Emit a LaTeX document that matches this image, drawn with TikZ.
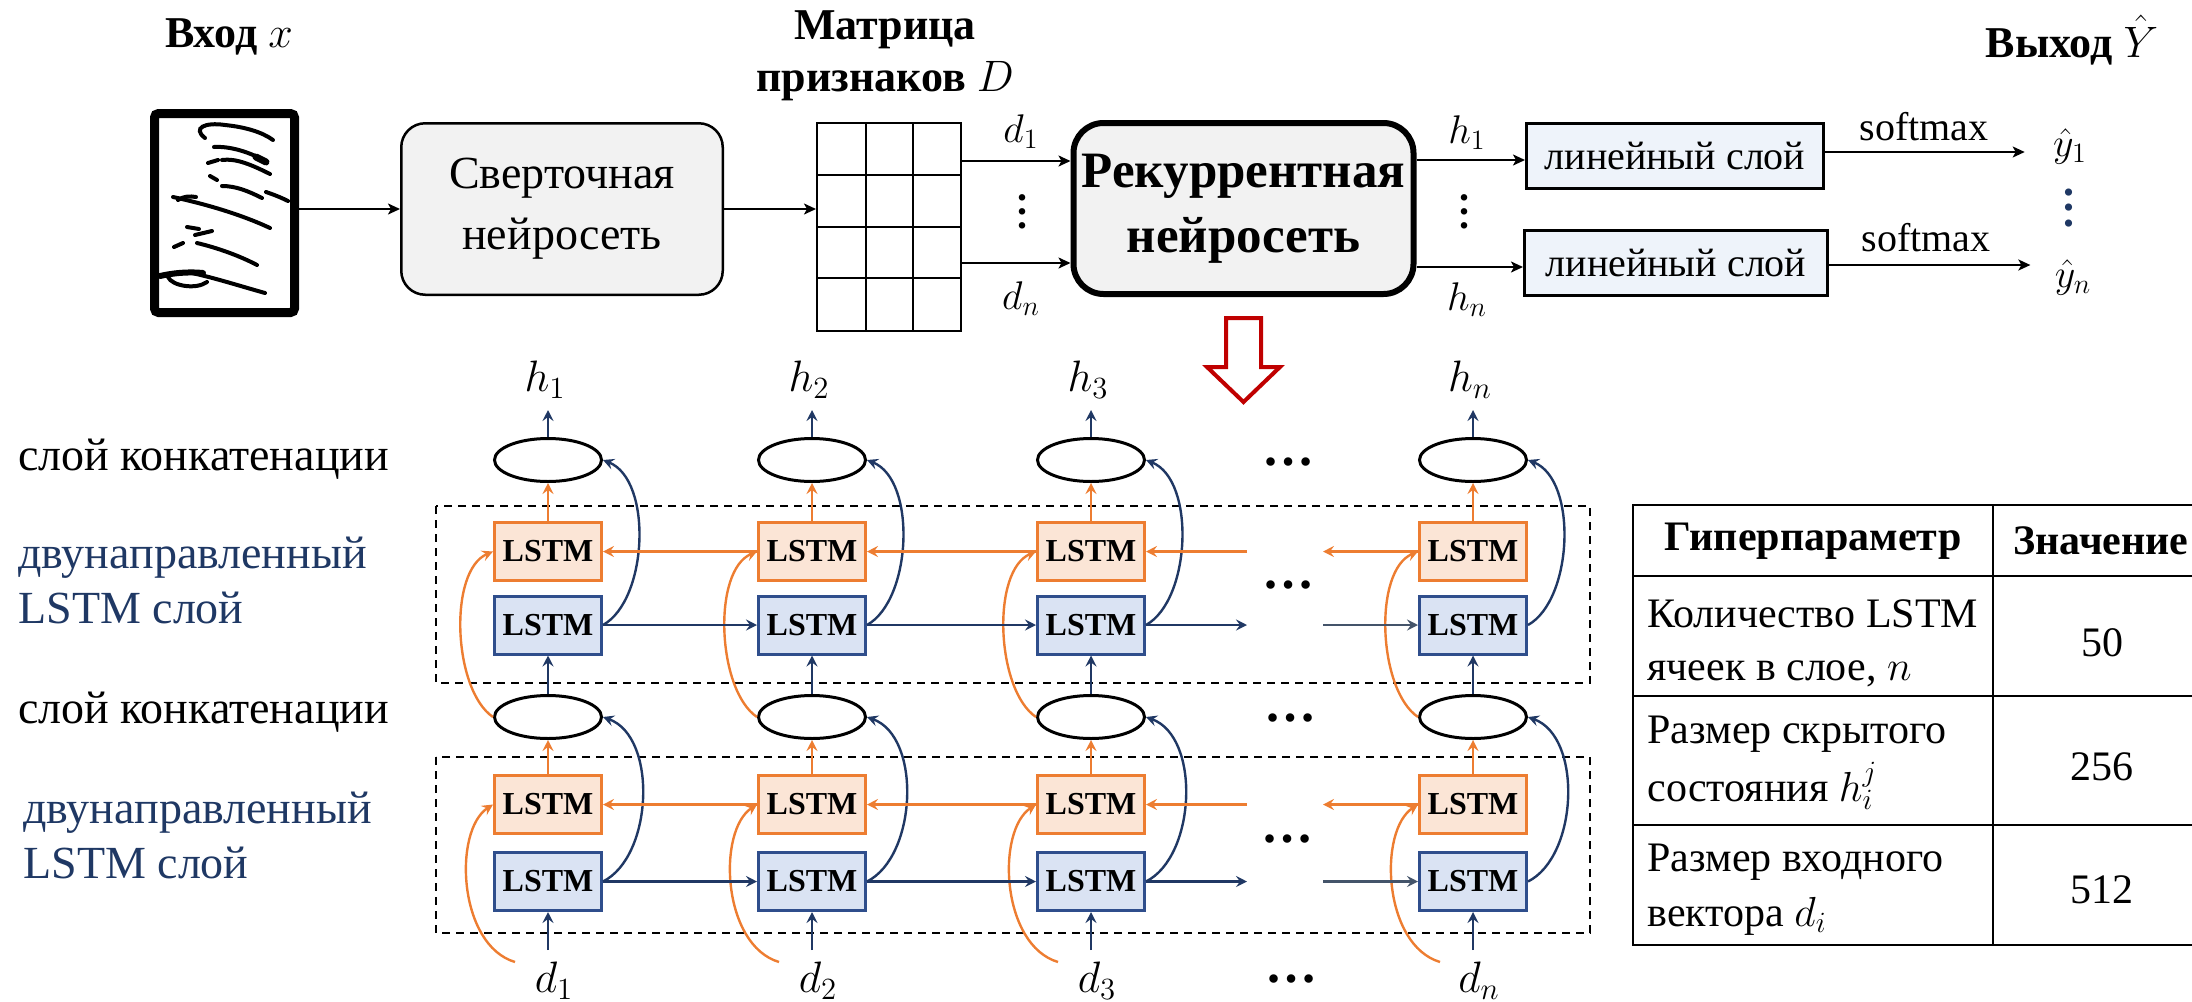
\RequirePackage{fix-cm}
\documentclass[tikz,border=0pt]{standalone}
\usepackage{fontspec}
\setmainfont{Liberation Serif}
\usetikzlibrary{arrows.meta,shapes.geometric}
\definecolor{org}{HTML}{ED7D31}
\definecolor{orgfill}{HTML}{FBE5D6}
\definecolor{blu}{HTML}{2F4E8C}
\definecolor{bluarr}{HTML}{203864}
\definecolor{blufill}{HTML}{DAE3F3}
\definecolor{grayfill}{HTML}{F2F2F2}
\definecolor{linfill}{HTML}{EEF3FA}
\definecolor{redarr}{HTML}{C00000}
\definecolor{navytext}{HTML}{1F3864}
\definecolor{slate}{HTML}{44546A}
\newcommand{\fsz}[2]{\fontsize{#1}{#2}\selectfont}
\newcommand{\myvdots}[1]{\vbox{\baselineskip=#1\lineskiplimit=-10pt\hbox{.}\hbox{.}\hbox{.}}}
\begin{document}
\begin{tikzpicture}[x=0.5pt,y=-0.5pt,
  toparr/.style={-{Stealth[length=6pt,width=5.5pt,inset=1.5pt]},line width=1pt},
  lowarr/.style={-{Stealth[length=5.5pt,width=5.5pt,inset=2pt]},line width=1.2pt},
  lstmo/.style={draw=org,fill=orgfill,line width=1.5pt,minimum width=53.5pt,minimum height=29pt,inner sep=0pt,font=\fsz{16}{19}\bfseries},
  lstmb/.style={lstmo,draw=blu,fill=blufill},
  concat/.style={ellipse,draw,line width=1.5pt,minimum width=53.5pt,minimum height=21.5pt,inner sep=0pt},
  linbox/.style={draw,fill=linfill,line width=1.5pt,minimum height=32.5pt,inner sep=0pt,font=\fsz{20}{24}},
  mlab/.style={font=\fsz{20}{24},inner sep=0pt},
  vdotsn/.style={font=\fsz{20}{24}\bfseries,inner sep=0pt},
  dotsn/.style={font=\fsz{26}{30}\bfseries,inner sep=0pt},
  title/.style={font=\fsz{22}{26}\bfseries,inner sep=0pt,align=center},
  sidelab/.style={font=\fsz{23}{27.5},inner sep=0pt,anchor=west,align=left},
  cell/.style={font=\fsz{21}{26.5},inner sep=0pt,anchor=west,align=left},
  cellv/.style={font=\fsz{21}{25},inner sep=0pt}
]
\useasboundingbox (0,0) rectangle (2192,1002);
\clip (0,0) rectangle (2192,1002);

% ---------- top row ----------
\node[title] (tin) at (229,37) {Вход $x$};
\node[title,font=\fsz{22}{26}\bfseries] (tmat) at (885,56) {Матрица\\признаков $D$};
\node[title] (tout) at (2072,40) {Выход $\hat{Y}$};

\node[draw,line width=4.5pt,rounded corners=2pt,minimum width=70pt,minimum height=99.5pt,inner sep=0pt] (img) at (224.5,213) {};
\begin{scope}[line width=2pt,line cap=round]
 \draw (205,138) .. controls (192,128) and (205,122) .. (225,125) .. controls (245,127) and (262,132) .. (273,140);
 \draw (214,147) .. controls (230,146) and (250,152) .. (267,162);
 \draw[line width=3.5pt] (256,157) -- (266,162);
 \draw (222,160) .. controls (236,158) and (252,165) .. (270,174);
 \draw (208,163) -- (218,160);
 \draw (210,176) -- (217,180);
 \draw (222,186) .. controls (236,186) and (248,191) .. (262,198);
 \draw (173,197) .. controls (205,204) and (240,214) .. (270,228);
 \draw (178,200) .. controls (184,196) and (190,196) .. (196,197);
 \draw (266,192) .. controls (272,194) and (280,197) .. (288,201);
 \draw (187,227) -- (199,229);
 \draw (195,235) -- (212,231);
 \draw (174,247) -- (183,243);
 \draw (197,243) .. controls (218,248) and (240,256) .. (257,265);
 \draw[line width=3pt] (160,276) .. controls (178,272) and (192,272) .. (203,273);
 \draw (168,277) .. controls (172,286) and (196,290) .. (207,282);
 \draw (192,273) .. controls (215,278) and (240,286) .. (265,293);
\end{scope}

\node[draw,fill=grayfill,line width=1.25pt,rounded corners=12pt,minimum width=160.75pt,minimum height=85.75pt,align=center,font=\fsz{23}{30.5}] (cnn) at (562,209) {Сверточная\\нейросеть};

\node[draw,line width=1pt,minimum width=72pt,minimum height=104pt,inner sep=0pt] (mat) at (889,227) {};
\foreach \gx in {866,913} \draw[line width=1pt] (\gx,123) -- (\gx,331);
\foreach \gy in {175,227,278} \draw[line width=1pt] (817,\gy) -- (961,\gy);

\node[draw,fill=grayfill,line width=3pt,rounded corners=15pt,minimum width=170pt,minimum height=85.5pt,align=center,font=\fsz{25.5}{32.5}\bfseries] (rnn) at (1243.5,208.5) {Рекуррентная\\нейросеть};

\node[linbox,minimum width=148.5pt] (lin1) at (1675,156) {линейный слой};
\node[linbox,minimum width=151.5pt] (lin2) at (1676,263) {линейный слой};

\draw[toparr] (img.east |- cnn.west) -- (cnn.west);
\draw[toparr] (cnn.east) -- (cnn.east -| mat.west);
\coordinate (m1) at ([yshift=33pt]mat.east);
\coordinate (m2) at ([yshift=-18pt]mat.east);
\draw[toparr] (m1) -- (m1 -| rnn.west);
\draw[toparr] (m2) -- (m2 -| rnn.west);
\node[mlab] (dt1) at (1021,132) {$d_1$};
\node[mlab] (dtn) at (1021,299) {$d_n$};
\node[vdotsn] (vd1) at (1022,212) {\myvdots{7pt}};

\coordinate (r1) at ([yshift=24.25pt]rnn.east);
\coordinate (r2) at ([yshift=-29.25pt]rnn.east);
\draw[toparr] (r1) -- (r1 -| lin1.west);
\draw[toparr] (r2) -- (r2 -| lin2.west);
\node[mlab] (ht1) at (1467,133) {$h_1$};
\node[mlab] (htn) at (1467,300) {$h_n$};
\node[vdotsn] (vd2) at (1464,212) {\myvdots{7pt}};

\node[mlab] (y1) at (2070,146) {$\hat{y}_1$};
\node[mlab] (yn) at (2073,277) {$\hat{y}_n$};
\node[vdotsn,text=navytext,font=\fsz{22}{24}\bfseries] (vd3) at (2069,208) {\myvdots{7.75pt}};
\coordinate (s1) at ([yshift=2pt]lin1.east);
\coordinate (s2) at ([yshift=-1pt]lin2.east);
\draw[toparr,shorten >=14pt] (s1) -- (s1 -| y1.west);
\draw[toparr,shorten >=12pt] (s2) -- (s2 -| yn.west);
\node[mlab,font=\fsz{20}{24}] (sm1) at (1924,127) {softmax};
\node[mlab,font=\fsz{20}{24}] (sm2) at (1926,238) {softmax};

\draw[redarr,line width=2pt,fill=white,line join=miter] (1226,318) -- (1261,318) -- (1261,367) -- (1280,367) -- (1243.5,402) -- (1207,367) -- (1226,367) -- cycle;

% ---------- lower part ----------
\draw[dashed,dash pattern=on 4pt off 3pt,line width=1pt] (436,506) rectangle (1590,683);
\draw[dashed,dash pattern=on 4pt off 3pt,line width=1pt] (436,757) rectangle (1590,933);

\node[sidelab,anchor=base west] (lc1) at (18,470) {слой конкатенации};
\node[sidelab,anchor=base west] (lc2) at (18,723) {слой конкатенации};
\node[sidelab,text=navytext] (lb1) at (18,580) {двунаправленный\\LSTM слой};
\node[sidelab,text=navytext] (lb2) at (23,835) {двунаправленный\\LSTM слой};

\foreach \n/\cx/\lab in {1/548/1,2/812/2,3/1091/3,4/1473/n} {
  \node[concat] (eA\n) at (\cx,460) {};
  \node[concat] (eB\n) at (\cx,717) {};
  \node[lstmo] (oA\n) at (\cx,551.5) {LSTM};
  \node[lstmb] (bA\n) at (\cx,625) {LSTM};
  \node[lstmo] (oB\n) at (\cx,804.5) {LSTM};
  \node[lstmb] (bB\n) at (\cx,881.5) {LSTM};
  \node[mlab,font=\fsz{22}{25}] (h\n) at (\cx-3,380) {$h_{\lab}$};
  \node[mlab,font=\fsz{22}{25}] (d\n) at (\cx+6,981) {$d_{\lab}$};
  \coordinate (ht\n) at ([yshift=13.5pt]eA\n.north);
  \draw[lowarr,bluarr] (eA\n.north) -- (ht\n);
  \draw[lowarr,org] (oA\n.north) -- (eA\n.south);
  \draw[lowarr,bluarr] (eB\n.north) -- (bA\n.south);
  \draw[lowarr,org] (oB\n.north) -- (eB\n.south);
  \coordinate (din\n) at ([yshift=-19pt]bB\n.south);
  \draw[lowarr,bluarr] (din\n) -- (bB\n.south);
  \draw[lowarr,org] (eB\n.west) .. controls +(-40,-27) and +(-45,19) .. (oA\n.west);
  \coordinate (ds\n) at ([xshift=-19.5pt,yshift=9.5pt]d\n.center);
  \draw[lowarr,org] (ds\n) .. controls +(-57,-17) and +(-40,26) .. (oB\n.west);
  \draw[lowarr,bluarr] (bA\n.east) .. controls +(45,-25) and +(50,20) .. (eA\n.east);
  \draw[lowarr,bluarr] (bB\n.east) .. controls +(50,-25) and +(55,20) .. (eB\n.east);
}

\foreach \r in {A,B} {
  \draw[lowarr,org] (o\r2.west) -- (o\r1.east);
  \draw[lowarr,org] (o\r3.west) -- (o\r2.east);
  \coordinate (go\r) at (1247,0 |- o\r3.east);
  \coordinate (gi\r) at (1323,0 |- o\r4.west);
  \draw[lowarr,org] (go\r) -- (o\r3.east);
  \draw[lowarr,org] (o\r4.west) -- (gi\r);
  \draw[lowarr,bluarr] (b\r1.east) -- (b\r2.west);
  \draw[lowarr,bluarr] (b\r2.east) -- (b\r3.west);
  \coordinate (gb\r) at (1247,0 |- b\r3.east);
  \coordinate (gc\r) at (1323,0 |- b\r4.west);
  \draw[lowarr,bluarr] (b\r3.east) -- (gb\r);
  \draw[lowarr,slate] (gc\r) -- (b\r4.west);
}

\node[dotsn] (dots1) at (1288,462) {…};
\node[dotsn] (dots2) at (1288,585) {…};
\node[dotsn] (dots3) at (1290,718) {…};
\node[dotsn] (dots4) at (1287,839) {…};
\node[dotsn] (dots5) at (1291,979) {…};

% ---------- table ----------
\draw[line width=1pt] (1633,505) rectangle (2240,945);
\draw[line width=1pt] (1633,576) -- (2240,576);
\draw[line width=1pt] (1633,696) -- (2240,696);
\draw[line width=1pt] (1633,825) -- (2240,825);
\draw[line width=1pt] (1993,505) -- (1993,945);
\node[cellv,font=\fsz{21}{25}\bfseries] (th1) at (1813,541) {Гиперпараметр};
\node[cellv,font=\fsz{21}{25}\bfseries,anchor=west] (th2) at (2013,541) {Значение};
\node[cell] (tc1) at (1647,643.5) {Количество LSTM\\ячеек в слое, $n$};
\node[cell,font=\fsz{21}{29}] (tc2) at (1647,763) {Размер скрытого\\состояния $h_i^j$};
\node[cell,font=\fsz{21}{27.5}] (tc3) at (1647,889.5) {Размер входного\\вектора $d_i$};
\node[cellv] (tv1) at (2102,643) {50};
\node[cellv] (tv2) at (2102,767) {256};
\node[cellv] (tv3) at (2102,890) {512};
\end{tikzpicture}
\end{document}
